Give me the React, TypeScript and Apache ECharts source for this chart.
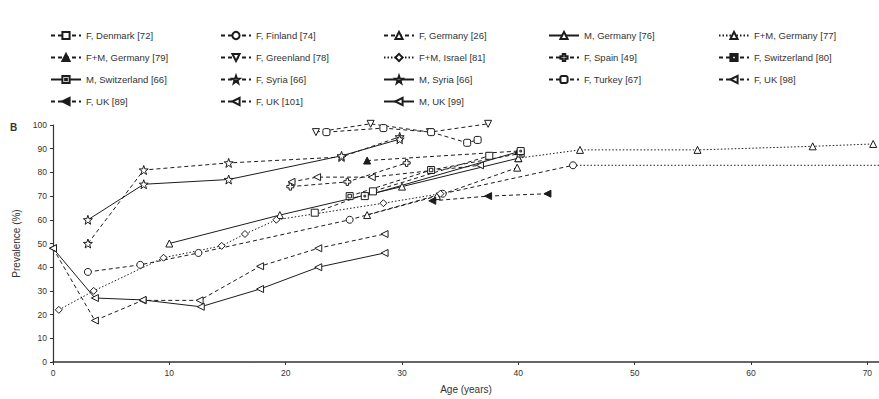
import React, { useEffect, useRef } from 'react';
import * as echarts from 'echarts';

// ---- tick labels ----
const xTicks = [0, 10, 20, 30, 40, 50, 60, 70];
const yTicks = [0, 10, 20, 30, 40, 50, 60, 70, 80, 90, 100];

// ---- series values: [age (years), prevalence (%)] ----
const fDenmark72 = [[22.5, 63], [27.5, 72], [37.5, 87]];
const fFinland74 = [[3, 38], [7.5, 41], [12.5, 46], [25.5, 60], [33.5, 71], [44.7, 83]];
const finlandTail = [[44.7, 83], [71, 83]];
const fGermany26 = [[27, 62], [33, 70], [39.9, 82]];
const mGermany76 = [[10, 50], [19.5, 62], [30, 74], [40, 86]];
const fmGermany77 = [[40, 86], [45.3, 89.5], [55.4, 89.5], [65.3, 91], [70.5, 92]];
const fmGermany79 = [[27, 85], [40, 89]];
const fGreenland78 = [[22.6, 97], [27.3, 100.5], [32.4, 97], [37.4, 100.5]];
const fmIsrael81 = [[0.5, 22], [3.5, 30], [9.5, 44], [14.5, 49], [16.5, 54], [19.2, 60], [28.4, 67], [33.3, 71]];
const fSpain49 = [[20.4, 74], [25.3, 76], [30.4, 84]];
const fSwitzerland80 = [[25.5, 70], [32.5, 81], [40.2, 88]];
const mSwitzerland66 = [[26.8, 70], [40.2, 89]];
const fSyria66 = [[3, 50], [7.8, 81], [15.1, 84], [24.8, 86.5], [29.8, 95]];
const mSyria66 = [[3, 60], [7.8, 75], [15.1, 77], [24.8, 87], [29.8, 94]];
const fTurkey67 = [[23.5, 97], [28.4, 98.7], [32.5, 97], [35.6, 92.5], [36.5, 93.7]];
const fUK98 = [[20.5, 76], [22.7, 78], [27.4, 78], [36.7, 83]];
const fUK89 = [[32.6, 68], [37.4, 70], [42.5, 71]];
const fUK101 = [[0, 48], [3.6, 17.5], [7.7, 26], [12.6, 26], [17.8, 40.4], [22.8, 48], [28.5, 54]];
const mUK99 = [[0, 48], [3.6, 27], [7.7, 26.2], [12.7, 23.3], [17.8, 30.8], [22.8, 40], [28.5, 46]];

const legendColumns = [
  ['F, Denmark [72]', 'F+M, Germany [79]', 'M, Switzerland [66]', 'F, UK [89]'],
  ['F, Finland [74]', 'F, Greenland [78]', 'F, Syria [66]', 'F, UK [101]'],
  ['F, Germany [26]', 'F+M, Israel [81]', 'M, Syria [66]', 'M, UK [99]'],
  ['M, Germany [76]', 'F, Spain [49]', 'F, Turkey [67]'],
  ['F+M, Germany [77]', 'F, Switzerland [80]', 'F, UK [98]'],
];
const legendLefts = [50, 220, 383, 548, 718];

const STAR = 'path://M0,-10 L2.35,-3.24 L9.51,-3.09 L3.8,1.24 L5.88,8.09 L0,4 L-5.88,8.09 L-3.8,1.24 L-9.51,-3.09 L-2.35,-3.24 Z';
const CROSS = 'path://M-1.2,-3.5 L1.2,-3.5 L1.2,-1.2 L3.5,-1.2 L3.5,1.2 L1.2,1.2 L1.2,3.5 L-1.2,3.5 L-1.2,1.2 L-3.5,1.2 L-3.5,-1.2 L-1.2,-1.2 Z';
const SQSQ = 'path://M-5,-5 L5,-5 L5,5 L-5,5 Z M-2.5,-2.5 L2.5,-2.5 L2.5,2.5 L-2.5,2.5 Z';
const SQDOT = 'path://M-5,-5 L5,-5 L5,5 L-5,5 Z M-1.2,-1.2 L1.2,-1.2 L1.2,1.2 L-1.2,1.2 Z';

const INK = '#1c1c1c';

type Def = { name: string; data: number[][]; symbol: string; line: 'solid' | 'dashed' | 'dotted'; rotate?: number; filled?: boolean; size?: number };

const defs: Def[] = [
  { name: 'F, Denmark [72]', data: fDenmark72, symbol: 'rect', line: 'dashed' },
  { name: 'F, Finland [74]', data: fFinland74, symbol: 'circle', line: 'dashed' },
  { name: 'F, Germany [26]', data: fGermany26, symbol: 'triangle', line: 'dashed' },
  { name: 'M, Germany [76]', data: mGermany76, symbol: 'triangle', line: 'solid' },
  { name: 'F+M, Germany [77]', data: fmGermany77, symbol: 'triangle', line: 'dotted' },
  { name: 'F+M, Germany [79]', data: fmGermany79, symbol: 'triangle', line: 'dashed', filled: true },
  { name: 'F, Greenland [78]', data: fGreenland78, symbol: 'triangle', line: 'dashed', rotate: 180 },
  { name: 'F+M, Israel [81]', data: fmIsrael81, symbol: 'diamond', line: 'dotted' },
  { name: 'F, Spain [49]', data: fSpain49, symbol: CROSS, line: 'dashed' },
  { name: 'F, Switzerland [80]', data: fSwitzerland80, symbol: SQSQ, line: 'dashed' },
  { name: 'M, Switzerland [66]', data: mSwitzerland66, symbol: SQDOT, line: 'solid' },
  { name: 'F, Syria [66]', data: fSyria66, symbol: STAR, line: 'dashed', size: 9 },
  { name: 'M, Syria [66]', data: mSyria66, symbol: STAR, line: 'solid', size: 9 },
  { name: 'F, Turkey [67]', data: fTurkey67, symbol: 'roundRect', line: 'dashed' },
  { name: 'F, UK [98]', data: fUK98, symbol: 'triangle', line: 'dashed', rotate: 90 },
  { name: 'F, UK [89]', data: fUK89, symbol: 'triangle', line: 'dashed', rotate: 90, filled: true },
  { name: 'F, UK [101]', data: fUK101, symbol: 'triangle', line: 'dashed', rotate: 90 },
  { name: 'M, UK [99]', data: mUK99, symbol: 'triangle', line: 'solid', rotate: 90 },
];

export default function App() {
  const ref = useRef<HTMLDivElement>(null);
  useEffect(() => {
    if (!ref.current) return;
    const chart = echarts.init(ref.current, null, { renderer: 'svg' });
    const series: any[] = defs.map((d) => ({
      name: d.name,
      type: 'line',
      data: d.data,
      symbol: d.symbol,
      symbolSize: d.size ?? 7,
      symbolRotate: d.rotate ?? 0,
      showAllSymbol: true,
      clip: false,
      lineStyle: { color: INK, width: 1, type: d.line === 'dashed' ? [4, 3] : d.line === 'dotted' ? [1.5, 2] : 'solid' },
      itemStyle: { color: d.filled ? INK : '#ffffff', borderColor: INK, borderWidth: 1 },
      emphasis: { disabled: true },
      z: 3,
    }));
    series.push({
      name: 'tail',
      type: 'line',
      data: finlandTail,
      symbol: 'none',
      clip: false,
      lineStyle: { color: INK, width: 1, type: [1.5, 2] },
      emphasis: { disabled: true },
      z: 2,
    });
    const legends = legendColumns.map((col, i) => ({
      data: col,
      orient: 'vertical',
      left: legendLefts[i],
      top: 30,
      itemWidth: 30,
      itemHeight: 9,
      itemGap: 11,
      padding: 0,
      selectedMode: false,
      textStyle: { fontSize: 9.5, color: '#333', fontFamily: 'Liberation Sans, Arial, sans-serif', lineHeight: 11 },
    }));
    chart.setOption({
      animation: false,
      backgroundColor: '#ffffff',
      textStyle: { fontFamily: 'Liberation Sans, Arial, sans-serif' },
      legend: legends,
      grid: { left: 53, right: 0, top: 125, bottom: 34, containLabel: false },
      xAxis: {
        type: 'value',
        min: 0,
        max: 71,
        interval: 10,
        name: 'Age (years)',
        nameLocation: 'middle',
        nameGap: 22,
        nameTextStyle: { fontSize: 10, color: '#333' },
        axisLine: { lineStyle: { color: '#333', width: 1.5 } },
        axisTick: { length: 3, inside: false, lineStyle: { color: '#333' }, customValues: xTicks },
        axisLabel: { fontSize: 8.5, color: '#333', margin: 6, customValues: xTicks },
        splitLine: { show: false },
      },
      yAxis: {
        type: 'value',
        min: 0,
        max: 100,
        interval: 10,
        name: 'Prevalence (%)',
        nameLocation: 'middle',
        nameGap: 32,
        nameTextStyle: { fontSize: 10, color: '#333' },
        axisLine: { show: true, lineStyle: { color: '#333', width: 1.2 } },
        axisTick: { show: true, length: 3, lineStyle: { color: '#333' }, customValues: yTicks },
        axisLabel: { fontSize: 8.5, color: '#333', margin: 6, customValues: yTicks },
        splitLine: { show: false },
      },
      graphic: [
        { type: 'text', left: 10, top: 122, style: { text: 'B', fontSize: 10, fontWeight: 'bold', fill: '#333' } },
      ],
      series,
    });
    return () => chart.dispose();
  }, []);
  return <div ref={ref} style={{ position: 'fixed', left: 0, top: 0, width: 879, height: 399 }} />;
}
